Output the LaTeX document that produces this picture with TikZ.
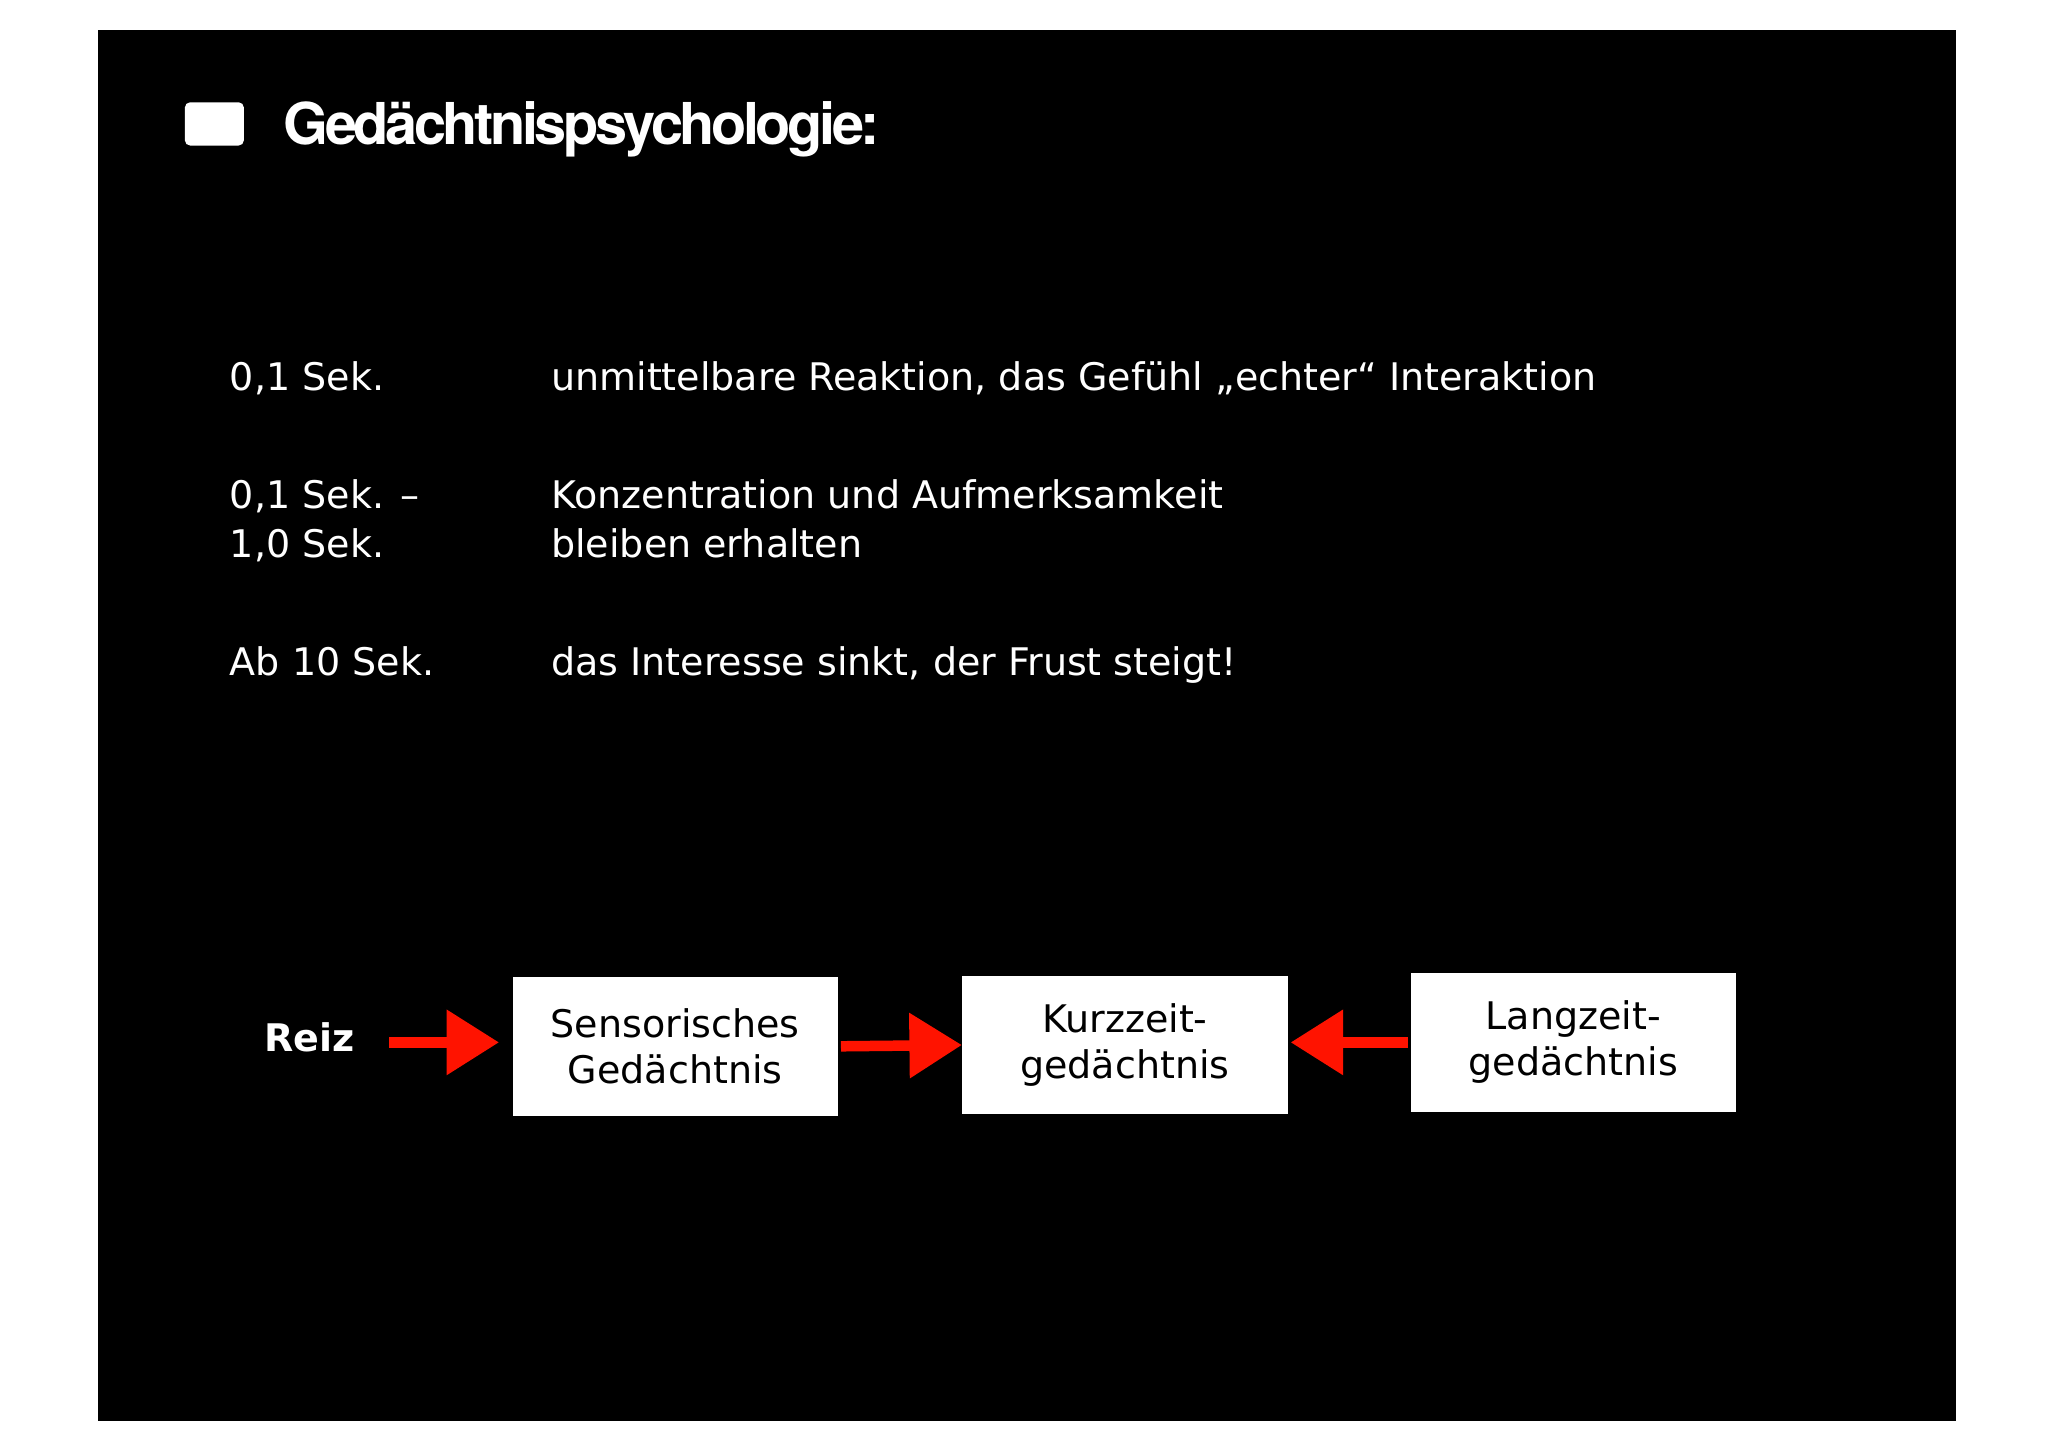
\documentclass[tikz,border=0pt]{standalone}
\usepackage{fontspec}
\setmainfont{DejaVu Sans}
\newfontfamily\titlefont{TeX Gyre Heros}
\usetikzlibrary{arrows.meta}
\begin{document}
\begin{tikzpicture}[x=0.5pt,y=-0.5pt,
  txt/.style={anchor=base west,text=white,font=\fontsize{14.5}{18}\selectfont,inner sep=0},
  mem/.style={fill=white,text=black,align=center,font=\fontsize{14.5}{17.5}\selectfont},
  redarrow/.style={draw=red!85!orange,line width=4pt,-{Triangle[length=20pt,width=24pt]}}]
\useasboundingbox (0,0) rectangle (1562,1104);
\fill[white] (0,0) rectangle (1562,1104);
\fill[black] (75,23) rectangle (1492,1084);
\fill[white,rounded corners=2pt] (141,78) rectangle (186,111);
\node[anchor=base west,inner sep=0,text=white,font=\titlefont\bfseries\fontsize{22}{26}\selectfont] (title) at (216,110) {\addfontfeature{LetterSpace=-6}Gedächtnispsychologie:};
\node[txt] (l1) at (175,298) {0,1 Sek.};
\node[txt] (r1) at (420,298) {unmittelbare Reaktion, das Gefühl „echter“ Interaktion};
\node[txt] (l2) at (175,388) {0,1 Sek. –};
\node[txt] (l2b) at (175,425) {1,0 Sek.};
\node[txt] (r2) at (420,388) {Konzentration und Aufmerksamkeit};
\node[txt] (r2b) at (420,425) {bleiben erhalten};
\node[txt] (l3) at (175,515) {Ab 10 Sek.};
\node[txt] (r3) at (420,515) {das Interesse sinkt, der Frust steigt!};
\node[mem,minimum width=124pt,minimum height=53pt] (s) at (515,798) {Sensorisches\\Gedächtnis};
\node[mem,minimum width=124pt,minimum height=53pt] (k) at (858,797) {Kurzzeit-\\gedächtnis};
\node[mem,minimum width=124pt,minimum height=53pt] (g) at (1200,795) {Langzeit-\\gedächtnis};
\node[anchor=base west,inner sep=0,text=white,font=\bfseries\fontsize{14.5}{18}\selectfont] (reiz) at (201,802) {Reiz};
\coordinate (a0) at (297,795);
\draw[redarrow] (a0) -- ([xshift=-5pt]s.west|-a0);
\draw[redarrow] ([xshift=1pt]s.east) -- (k.west);
\draw[redarrow] ([xshift=-1pt]g.west) -- ([xshift=1pt]k.east|-g.west);
\end{tikzpicture}
\end{document}
